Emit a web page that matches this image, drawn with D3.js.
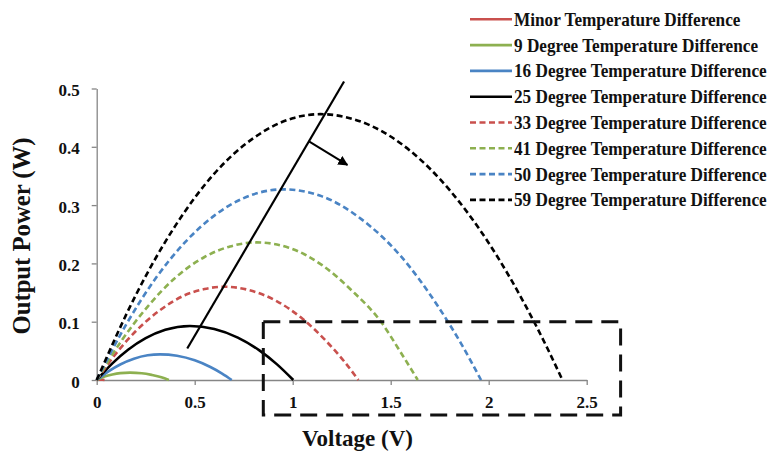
<!DOCTYPE html>
<html>
<head>
<meta charset="utf-8">
<script src="https://cdn.jsdelivr.net/npm/d3@7"></script>
<style>
  html, body { margin: 0; padding: 0; background: #fff; }
  svg { display: block; }
  text { font-family: "Liberation Serif", "Times New Roman", serif; font-weight: bold; fill: #111; }
</style>
</head>
<body>
<svg id="chart" width="770" height="453"></svg>
<script>
// ---- data (voltage V, power W) ----
const seriesNames = [
  "Minor Temperature Difference",
  "9 Degree Temperature Difference",
  "16 Degree Temperature Difference",
  "25 Degree Temperature Difference",
  "33 Degree Temperature Difference",
  "41 Degree Temperature Difference",
  "50 Degree Temperature Difference",
  "59 Degree Temperature Difference"
];
const minorVals = [[0,0],[0.01,0.0004],[0.02,0.0005],[0.03,0.0004],[0.04,0]];
const deg9Vals = [[0,0],[0.04,0.0058],[0.08,0.0095],[0.12,0.0118],[0.17,0.0127],[0.23,0.0116],[0.28,0.0088],[0.33,0.0048],[0.368,0]];
const deg16Vals = [[0,0],[0.06,0.0148],[0.12,0.0266],[0.19,0.0365],[0.26,0.0423],[0.323,0.044],[0.41,0.0415],[0.5,0.0337],[0.58,0.0223],[0.64,0.011],[0.689,0]];
const deg25Vals = [[0,0],[0.08,0.0285],[0.16,0.0518],[0.25,0.0717],[0.35,0.0861],[0.476,0.0926],[0.6,0.0875],[0.72,0.0728],[0.83,0.0508],[0.92,0.0268],[1.003,0]];
const deg33Vals = [[0,0],[0.1,0.046],[0.2,0.084],[0.32,0.119],[0.44,0.144],[0.55,0.156],[0.646,0.16],[0.78,0.154],[0.92,0.135],[1.05,0.105],[1.17,0.067],[1.26,0.033],[1.335,0]];
const deg41Vals = [[0,0],[0.13,0.069],[0.26,0.126],[0.4,0.175],[0.55,0.211],[0.68,0.229],[0.816,0.236],[0.98,0.227],[1.15,0.197],[1.3,0.154],[1.45,0.1],[1.55,0.048],[1.638,0]];
const deg50Vals = [[0,0],[0.15,0.095],[0.3,0.174],[0.45,0.236],[0.6,0.282],[0.75,0.312],[0.952,0.327],[1.15,0.315],[1.35,0.276],[1.55,0.213],[1.75,0.122],[1.86,0.062],[1.961,0]];
const deg59Vals = [[0,0],[0.2,0.146],[0.4,0.264],[0.6,0.354],[0.8,0.415],[1.0,0.449],[1.14,0.456],[1.4,0.436],[1.6,0.393],[1.8,0.326],[2.0,0.235],[2.2,0.12],[2.3,0.054],[2.376,0]];
const allSeries = [minorVals, deg9Vals, deg16Vals, deg25Vals, deg33Vals, deg41Vals, deg50Vals, deg59Vals];
const seriesColors = ["#C9504D","#8DB050","#4A84C4","#000000","#C9504D","#8DB050","#4A84C4","#000000"];
const seriesDashed = [false,false,false,false,true,true,true,true];

const xTicks = [0, 0.5, 1, 1.5, 2, 2.5];
const xTickLabels = ["0", "0.5", "1", "1.5", "2", "2.5"];
const yTicks = [0, 0.1, 0.2, 0.3, 0.4, 0.5];
const yTickLabels = ["0", "0.1", "0.2", "0.3", "0.4", "0.5"];

// annotation (data coordinates)
const trendLine = [[0.462, 0.054], [1.262, 0.512]];
const trendArrow = [[1.085, 0.409], [1.279, 0.369]];
const zoomBox = { x0: 0.85, x1: 2.673, y0: -0.06, y1: 0.1 };

// ---- layout ----
const svg = d3.select("#chart");
const x = d3.scaleLinear().domain([0, 2.5]).range([96.7, 586.7]);
const y = d3.scaleLinear().domain([0, 0.5]).range([380, 88.5]);

const axisColor = "#868686";

// x axis
const xAxis = svg.append("g").attr("transform", `translate(0,${y(0)})`)
  .call(d3.axisBottom(x).tickValues(xTicks).tickSize(5).tickSizeOuter(0)
    .tickFormat((d, i) => xTickLabels[i]));
xAxis.select(".domain").attr("stroke", axisColor).attr("stroke-width", 1.3);
xAxis.selectAll(".tick line").attr("stroke", axisColor).attr("stroke-width", 1.3);
xAxis.selectAll(".tick text").attr("font-size", 17).attr("dy", "1.15em")
  .style("font-family", "Liberation Serif").style("font-weight", "bold").attr("fill", "#111");

// y axis
const yAxis = svg.append("g").attr("transform", `translate(${x(0)},0)`)
  .call(d3.axisLeft(y).tickValues(yTicks).tickSize(5).tickSizeOuter(0)
    .tickFormat((d, i) => yTickLabels[i]));
yAxis.select(".domain").attr("stroke", axisColor).attr("stroke-width", 1.3);
yAxis.selectAll(".tick line").attr("stroke", axisColor).attr("stroke-width", 1.3);
yAxis.selectAll(".tick text").attr("font-size", 17).attr("x", -17).attr("dy", "0.42em")
  .style("font-family", "Liberation Serif").style("font-weight", "bold").attr("fill", "#111");

// axis titles
svg.append("text").attr("x", 302).attr("y", 446).attr("text-anchor", "start")
  .attr("font-size", 23).text("Voltage (V)");
svg.append("text").attr("transform", `translate(30,236) rotate(-90)`).attr("text-anchor", "middle")
  .attr("font-size", 25).attr("textLength", 197).attr("lengthAdjust", "spacingAndGlyphs")
  .text("Output Power (W)");

// curves
const line = d3.line().x(d => x(d[0])).y(d => y(d[1])).curve(d3.curveMonotoneX);
allSeries.forEach((vals, i) => {
  svg.append("path").datum(vals)
    .attr("d", line)
    .attr("fill", "none")
    .attr("stroke", seriesColors[i])
    .attr("stroke-width", 2.6)
    .attr("stroke-dasharray", seriesDashed[i] ? "6,3.5" : null);
});

// annotation line and arrow
svg.append("defs").append("marker").attr("id", "arrowhead")
  .attr("viewBox", "0 0 10 10").attr("refX", 9).attr("refY", 5)
  .attr("markerWidth", 5).attr("markerHeight", 5).attr("orient", "auto")
  .append("path").attr("d", "M0,0 L10,5 L0,10 z").attr("fill", "#000");
svg.append("line")
  .attr("x1", x(trendLine[0][0])).attr("y1", y(trendLine[0][1]))
  .attr("x2", x(trendLine[1][0])).attr("y2", y(trendLine[1][1]))
  .attr("stroke", "#000").attr("stroke-width", 2.2);
svg.append("line")
  .attr("x1", x(trendArrow[0][0])).attr("y1", y(trendArrow[0][1]))
  .attr("x2", x(trendArrow[1][0])).attr("y2", y(trendArrow[1][1]))
  .attr("stroke", "#000").attr("stroke-width", 2)
  .attr("marker-end", "url(#arrowhead)");

// dashed zoom box
svg.append("rect")
  .attr("x", x(zoomBox.x0)).attr("y", y(zoomBox.y1))
  .attr("width", x(zoomBox.x1) - x(zoomBox.x0))
  .attr("height", y(zoomBox.y0) - y(zoomBox.y1))
  .attr("fill", "none").attr("stroke", "#111").attr("stroke-width", 3)
  .attr("stroke-dasharray", "17,9");

// legend
const legend = svg.append("g");
seriesNames.forEach((name, i) => {
  const ly = 19.3 + i * 25.8;
  legend.append("line").attr("x1", 470).attr("x2", 512).attr("y1", ly).attr("y2", ly)
    .attr("stroke", seriesColors[i]).attr("stroke-width", 2.6)
    .attr("stroke-dasharray", seriesDashed[i] ? "6,3.5" : null);
  legend.append("text").attr("transform", `translate(514,${ly}) scale(0.93,1)`)
    .attr("dy", "0.35em").attr("font-size", 18.5).text(name);
});
</script>
</body>
</html>
